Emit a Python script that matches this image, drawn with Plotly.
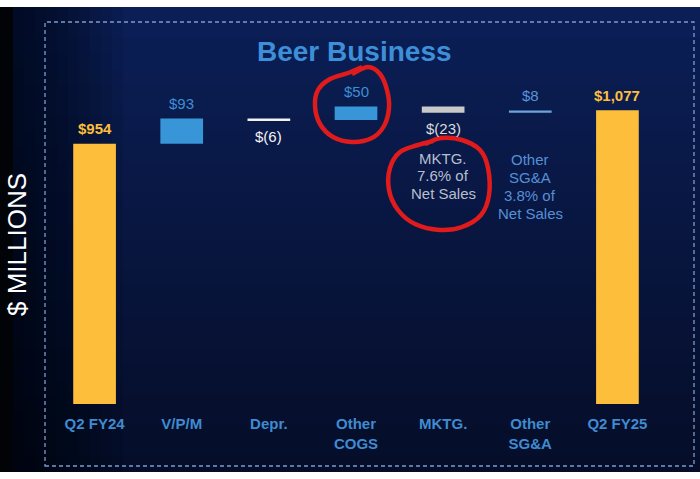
import plotly.graph_objects as go

# ---------------- data ----------------
categories = ["Q2 FY24", "V/P/M", "Depr.", "Other COGS", "MKTG.", "Other SG&A", "Q2 FY25"]
tick_labels = ["Q2 FY24", "V/P/M", "Depr.", "Other<br>COGS", "MKTG.", "Other<br>SG&A", "Q2 FY25"]
start_value = 954
deltas = [93, -6, 50, -23, 8]
end_value = 1077
value_labels = ["$954", "$93", "$(6)", "$50", "$(23)", "$8", "$1,077"]
mktg_note = ["MKTG.", "7.6% of", "Net Sales"]
sga_note = ["Other", "SG&A", "3.8% of", "Net Sales"]

# ---------------- geometry helpers (pixels -> paper) ----------------
L, R, T, B = 51, 661, 80, 404
W, H = R - L, B - T


def px(x):
    return (x - L) / W


def py(y):
    return (B - y) / H


# bases / heights for waterfall built from the data
bases, heights = [0], [start_value]
running = start_value
for d in deltas:
    if d >= 0:
        bases.append(running)
        heights.append(d)
    else:
        bases.append(running + d)
        heights.append(-d)
    running += d
bases.append(0)
heights.append(end_value)

YELLOW = "#fdbf3b"
BLUE = "#3895d8"
colors = [YELLOW, BLUE, "#f1f1f1", BLUE, "#c9c9c9", "#6fa3dc", YELLOW]

fig = go.Figure()
fig.add_trace(go.Bar(
    x=categories, y=heights, base=bases, width=0.49,
    marker=dict(color=colors, line=dict(width=0)),
    hoverinfo="skip", showlegend=False,
))

shapes = []
top_c = (11, 31, 88)
bot_c = (5, 13, 40)
y0p, y1p = 7, 472
shapes.append(dict(type="rect", xref="paper", yref="paper", layer="below",
                   x0=px(13), x1=px(700), y0=py(y1p), y1=py(y0p),
                   fillcolor="rgb(%d,%d,%d)" % bot_c, line=dict(width=0)))
n = 30
for i in range(n):
    t = (i + 1) / n
    c = tuple(int(round(bot_c[k] + (top_c[k] - bot_c[k]) * t)) for k in range(3))
    yb = y1p - (y1p - y0p) * t
    shapes.append(dict(type="rect", xref="paper", yref="paper", layer="below",
                       x0=px(13), x1=px(700), y0=py(yb), y1=py(y0p),
                       fillcolor="rgb(%d,%d,%d)" % c, line=dict(width=0)))
m = 10
for i in range(m):
    w = 110 * (i + 1) / m
    shapes.append(dict(type="rect", xref="paper", yref="paper", layer="below",
                       x0=px(13), x1=px(13 + w), y0=py(y1p), y1=py(y0p),
                       fillcolor="rgba(0,0,0,0.07)", line=dict(width=0)))
shapes.append(dict(type="rect", xref="paper", yref="paper", layer="below",
                   x0=px(0), x1=px(13), y0=py(y1p), y1=py(y0p),
                   fillcolor="#020306", line=dict(width=0)))
shapes.append(dict(type="rect", xref="paper", yref="paper", layer="below",
                   x0=px(45), x1=px(694), y0=py(466), y1=py(22),
                   fillcolor="rgba(0,0,0,0)",
                   line=dict(color="rgb(125,155,205)", width=1.3, dash="4px,3px")))


def smooth_path(pts):
    pts = [(px(x), py(y)) for x, y in pts]
    ext = [pts[0]] + pts + [pts[-1]]
    d = "M %.5f %.5f" % pts[0]
    for i in range(1, len(ext) - 2):
        p0, p1, p2, p3 = ext[i - 1], ext[i], ext[i + 1], ext[i + 2]
        c1 = (p1[0] + (p2[0] - p0[0]) / 6, p1[1] + (p2[1] - p0[1]) / 6)
        c2 = (p2[0] - (p3[0] - p1[0]) / 6, p2[1] - (p3[1] - p1[1]) / 6)
        d += " C %.5f %.5f %.5f %.5f %.5f %.5f" % (c1 + c2 + p2)
    return d


circle1 = [(352, 74), (368, 67), (380, 74), (387, 90), (389, 108), (384, 126), (372, 138),
           (352, 142), (333, 137), (320, 124), (315, 106), (318, 90), (330, 79), (348, 73), (362, 67)]
circle2 = [(425, 144), (441, 138), (462, 140), (480, 150), (488, 168), (489, 195), (481, 215),
           (462, 227), (440, 230), (415, 224), (398, 210), (389, 190), (390, 168), (400, 152),
           (418, 145), (433, 141)]
for c in (circle1, circle2):
    shapes.append(dict(type="path", xref="paper", yref="paper", layer="above",
                       path=smooth_path(c), line=dict(color="#e01b1b", width=4.5)))

annotations = []
FONT = "Liberation Sans, Arial, sans-serif"
label_styles = [
    (YELLOW, True), ("#3b8fd4", False), ("#f4f4f4", False), ("#3b8fd4", False),
    ("#dcdcdc", False), ("#5a94d8", False), (YELLOW, True),
]
all_vals = [start_value] + deltas + [end_value]
for i, (cat, lab, b, h, v) in enumerate(zip(categories, value_labels, bases, heights, all_vals)):
    col, bold = label_styles[i]
    neg = v < 0
    annotations.append(dict(
        x=cat, y=b if neg else b + h, xref="x", yref="y",
        text="<b>%s</b>" % lab if bold else lab, showarrow=False,
        yanchor="middle", yshift=-16 if neg else 15,
        font=dict(family=FONT, size=15, color=col)))

for j, line in enumerate(mktg_note):
    annotations.append(dict(x=categories[4], y=py(158 + j * 17.5), xref="x", yref="paper",
                            text=line, showarrow=False, yanchor="middle",
                            font=dict(family=FONT, size=15, color="#b7bfcf")))
for j, line in enumerate(sga_note):
    annotations.append(dict(x=categories[5], y=py(159 + j * 18), xref="x", yref="paper",
                            text=line, showarrow=False, yanchor="middle",
                            font=dict(family=FONT, size=15, color="#5590d6")))

annotations.append(dict(x=px(354.5), y=py(51), xref="paper", yref="paper",
                        text="<b>Beer Business</b>", showarrow=False, yanchor="middle",
                        font=dict(family=FONT, size=28, color="#3d8fd8")))
annotations.append(dict(x=px(17), y=py(245), xref="paper", yref="paper",
                        text="$ MILLIONS", showarrow=False, textangle=-90,
                        xanchor="center", yanchor="middle",
                        font=dict(family=FONT, size=26, color="#ffffff")))

fig.update_layout(
    width=700, height=479,
    margin=dict(l=L, r=700 - R, t=T, b=479 - B),
    paper_bgcolor="#ffffff",
    plot_bgcolor="rgba(0,0,0,0)",
    shapes=shapes,
    annotations=annotations,
    showlegend=False,
    xaxis=dict(
        type="category", categoryarray=categories, tickvals=categories,
        ticktext=["<b>%s</b>" % t for t in tick_labels],
        range=[-0.5, 6.5], showgrid=False, zeroline=False, showline=False, ticks="",
        tickfont=dict(family=FONT, size=15, color="#3f8bd1"),
        ticklabelstandoff=9,
    ),
    yaxis=dict(range=[0, 1188], visible=False, showgrid=False, zeroline=False),
)

fig.write_html("out.html", config={"displayModeBar": False},
               post_script="document.body.style.margin='0';document.body.style.padding='0';")
